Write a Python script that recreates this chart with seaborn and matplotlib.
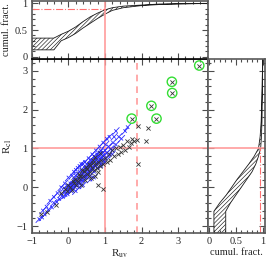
import matplotlib
matplotlib.use("Agg")
import matplotlib.pyplot as plt
import seaborn as sns
import numpy as np
import pandas as pd
from matplotlib.ticker import MultipleLocator

# blue sample (R_uv, R_cl)
blue_ruv = [-0.80, -0.72, -0.65, -0.55, -0.45, -0.40, -0.32, -0.25, -0.20, -0.15,
            -0.10, -0.08, -0.05, 0.00, 0.02, 0.05, 0.08, 0.10, 0.12, 0.15,
            0.18, 0.20, 0.22, 0.25, 0.28, 0.30, 0.32, 0.35, 0.38, 0.40,
            0.42, 0.45, 0.48, 0.50, 0.52, 0.55, 0.58, 0.60, 0.62, 0.65,
            0.68, 0.70, 0.72, 0.75, 0.78, 0.80, 0.82, 0.85, 0.88, 0.90,
            0.92, 0.95, 0.98, 1.00, 1.05, 1.10, 1.15, 1.22, 1.30, 1.38,
            1.45, 1.55, 1.62, 0.25, 0.35, 0.45, 0.55, 0.65, 0.75, 0.30,
            0.50, 0.60, 0.70, 0.40, 0.20, 0.15, 0.05, -0.02, 0.58, 0.85,
            0.95, 0.10, 0.78, 1.02, 0.88, -0.12, 0.35, 0.45, 1.20, 1.25,
            0.10, 0.20, 0.30, 0.40, 0.50, 0.60, 0.70, 0.80, 0.35, 0.45,
            0.55, 0.65, 0.75, 0.85, 0.95, 1.05, 1.12, 1.30, 0.00, -0.10,
            -0.20, -0.30, -0.40, -0.50, -0.60, -0.70, 0.20, 0.30, 0.40, 0.60,
            0.70, 0.90, 1.00, 1.10, 1.20, 0.15, 0.25, 0.55, 0.65, 0.85,
            0.90, 0.48, 0.38, 0.28, 0.18, 0.08, -0.02, 0.62, 0.72, 0.82]
blue_rcl = [-0.82, -0.78, -0.70, -0.58, -0.52, -0.40, -0.38, -0.30, -0.18, -0.25,
            -0.12, -0.20, -0.05, -0.10, 0.02, -0.02, 0.05, 0.12, -0.05, 0.08,
            0.15, 0.05, 0.20, 0.12, 0.25, 0.18, 0.10, 0.30, 0.22, 0.35,
            0.28, 0.40, 0.32, 0.45, 0.38, 0.50, 0.42, 0.55, 0.48, 0.60,
            0.52, 0.65, 0.58, 0.70, 0.62, 0.75, 0.68, 0.80, 0.72, 0.85,
            0.78, 0.90, 0.82, 0.95, 0.88, 1.05, 0.98, 1.15, 1.10, 1.30,
            1.25, 1.45, 1.55, 0.35, 0.20, 0.50, 0.35, 0.45, 0.55, 0.40,
            0.60, 0.70, 0.80, 0.15, 0.30, 0.20, 0.10, 0.05, 0.62, 0.65,
            0.70, -0.02, 0.85, 1.10, 0.95, -0.02, 0.45, 0.25, 0.95, 1.30,
            0.30, 0.45, 0.55, 0.60, 0.25, 0.30, 0.40, 0.50, 0.60, 0.65,
            0.75, 0.85, 0.95, 1.05, 1.15, 1.25, 1.30, 1.45, 0.25, 0.10,
            0.00, -0.15, -0.25, -0.35, -0.50, -0.60, -0.10, 0.00, 0.05, 0.20,
            0.25, 0.55, 0.65, 0.80, 0.85, 0.40, 0.50, 0.55, 0.70, 0.90,
            0.60, 0.48, 0.38, 0.12, 0.00, -0.10, -0.18, 0.62, 0.72, 0.82]

# black sample
black_ruv = [-0.75, -0.60, -0.35, -0.20, -0.05, 0.05, 0.10, 0.15, 0.22, 0.25,
             0.30, 0.35, 0.40, 0.45, 0.50, 0.55, 0.60, 0.62, 0.65, 0.70,
             0.72, 0.75, 0.78, 0.80, 0.82, 0.85, 0.80, 0.90, 0.95, 0.95,
             1.00, 1.05, 1.10, 1.15, 1.20, 1.25, 1.30, 1.35, 1.40, 1.45,
             1.50, 1.55, 1.60, 1.65, 1.70, 1.75, 1.80, 1.87, 1.91, 2.13,
             2.19, 1.90, 0.00, 0.12, 0.28, 0.38, 0.48, 0.58, 0.68, 0.52,
             0.42, 0.32, -0.10, 0.18, 0.66, 0.74, 0.86, 0.56]
black_rcl = [-0.70, -0.65, -0.45, -0.15, -0.10, 0.00, -0.08, 0.10, 0.05, 0.15,
             0.25, 0.05, 0.30, 0.20, 0.35, 0.30, 0.40, 0.25, 0.50, 0.45,
             0.30, 0.60, 0.50, 0.65, 0.40, 0.55, 0.05, 0.70, -0.05, 0.60,
             0.75, 0.65, 0.85, 0.70, 0.95, 0.80, 1.00, 0.85, 1.05, 0.90,
             1.10, 0.95, 1.20, 1.05, 1.15, 1.25, 1.20, 1.22, 1.58, 1.20,
             1.53, 0.60, 0.05, 0.15, 0.35, 0.45, 0.52, 0.58, 0.70, 0.48,
             0.42, 0.30, -0.05, 0.22, 0.62, 0.78, 0.88, 0.60]

# outliers circled in green
out_ruv = [1.73, 2.27, 2.41, 2.83, 2.84, 3.58]
out_rcl = [1.77, 2.10, 1.77, 2.72, 2.43, 3.14]

# cumulative fraction bands
cdf_ruv = [-1.0, -0.4, -0.2, 0.0, 0.2, 0.4, 0.6, 0.8, 1.0, 1.2, 1.5, 2.0, 2.5, 3.0, 3.82]
cdf_ruv_lo = [0.13, 0.13, 0.30, 0.36, 0.44, 0.54, 0.63, 0.72, 0.80, 0.87, 0.92, 0.96, 0.98, 0.99, 1.0]
cdf_ruv_hi = [0.35, 0.35, 0.42, 0.48, 0.56, 0.66, 0.75, 0.82, 0.88, 0.92, 0.95, 0.97, 0.99, 0.995, 1.0]

cdf_rcl = [-1.18, -0.62, -0.4, -0.2, 0.0, 0.2, 0.4, 0.6, 0.8, 1.0, 1.3, 1.7, 2.2, 2.8, 3.31]
cdf_rcl_lo = [0.09, 0.09, 0.20, 0.32, 0.42, 0.52, 0.63, 0.74, 0.84, 0.92, 0.95, 0.97, 0.98, 0.99, 1.0]
cdf_rcl_hi = [0.31, 0.31, 0.40, 0.50, 0.60, 0.70, 0.80, 0.87, 0.92, 0.96, 0.975, 0.985, 0.99, 0.995, 1.0]

ruv_cut = 1.87
ruv_frac = 0.89
rcl_frac = 0.94

sns.set_theme(style="ticks")
plt.rcParams['font.family'] = ['Liberation Serif', 'DejaVu Serif']
plt.rcParams['mathtext.fontset'] = 'stix'
plt.rcParams['hatch.linewidth'] = 0.45

fig = plt.figure(figsize=(2.66, 2.63), dpi=100)
ax = fig.add_axes([0.120, 0.114, 0.662, 0.662])
axt = fig.add_axes([0.120, 0.776, 0.662, 0.222])
axr = fig.add_axes([0.782, 0.114, 0.216, 0.662])

red = '#ff9c9c'

# main panel
seg = 0.09
for x, y in zip(blue_ruv, blue_rcl):
    ax.plot([x - seg, x + seg], [y - seg, y + seg], color='#2a2aff', lw=0.6, zorder=2)
    ax.plot([x - 0.04, x + 0.04], [y + 0.04, y - 0.04], color='#2a2aff', lw=0.6, zorder=2)
ax.axvline(1, color=red, lw=1.2, zorder=1)
ax.axhline(1, color=red, lw=1.2, zorder=1)
ax.axvline(ruv_cut, color=red, lw=1.2, ls=(0, (4, 3)), zorder=1)
df_b = pd.DataFrame({'ruv': black_ruv, 'rcl': black_rcl})
sns.scatterplot(data=df_b, x='ruv', y='rcl', marker='x', s=9, color='0.2',
                linewidth=0.6, ax=ax, zorder=3)
df_o = pd.DataFrame({'ruv': out_ruv, 'rcl': out_rcl})
sns.scatterplot(data=df_o, x='ruv', y='rcl', marker='x', s=9, color='0.2',
                linewidth=0.6, ax=ax, zorder=3)
ax.scatter(out_ruv, out_rcl, s=45, facecolors='none', edgecolors='#33dd33',
           linewidths=1.0, zorder=4)
ax.set_xlim(-1, 3.82)
ax.set_ylim(-1.18, 3.31)
ax.set_xlabel(r'R$_{\rm uv}$', fontsize=8, labelpad=1)
ax.set_ylabel(r'R$_{\rm cl}$', fontsize=8, labelpad=2)

# top panel
axt.fill_between(cdf_ruv, cdf_ruv_lo, cdf_ruv_hi, facecolor='none',
                 edgecolor='0.1', hatch='////////', lw=0.6)
axt.axvline(1, color=red, lw=1.2, zorder=1)
axt.plot([-1, 1], [ruv_frac, ruv_frac], color='#ff7070', lw=0.8, ls='-.')
axt.set_xlim(-1, 3.82)
axt.set_ylim(-0.04, 1.055)
axt.set_ylabel('cumul. fract.', fontsize=7.5, labelpad=3)
axt.set_xticklabels([])

# right panel
axr.fill_betweenx(cdf_rcl, cdf_rcl_lo, cdf_rcl_hi, facecolor='none',
                  edgecolor='0.1', hatch='////////', lw=0.6)
axr.axhline(1, color=red, lw=1.2, zorder=1)
axr.plot([rcl_frac, rcl_frac], [-1.18, 1], color='#ff7070', lw=0.8, ls='-.')
axr.set_xlim(-0.02, 1.05)
axr.set_ylim(-1.18, 3.31)
axr.set_xlabel('cumul. fract.', fontsize=7.5, labelpad=1)
axr.set_yticklabels([])

for a in (ax, axt, axr):
    a.tick_params(which='both', direction='in', top=True, right=True,
                  labelsize=7.5, width=0.8, color='0.3', pad=3)
    a.tick_params(which='major', length=4)
    a.tick_params(which='minor', length=2)
    for s in a.spines.values():
        s.set_color('0.35')
        s.set_linewidth(1.2)

ax.xaxis.set_major_locator(MultipleLocator(1))
ax.xaxis.set_minor_locator(MultipleLocator(0.2))
ax.yaxis.set_major_locator(MultipleLocator(1))
ax.yaxis.set_minor_locator(MultipleLocator(0.2))
axt.xaxis.set_major_locator(MultipleLocator(1))
axt.xaxis.set_minor_locator(MultipleLocator(0.2))
axt.yaxis.set_major_locator(MultipleLocator(0.5))
axt.yaxis.set_minor_locator(MultipleLocator(0.1))
axr.yaxis.set_major_locator(MultipleLocator(1))
axr.yaxis.set_minor_locator(MultipleLocator(0.2))
axr.xaxis.set_major_locator(MultipleLocator(0.5))
axr.xaxis.set_minor_locator(MultipleLocator(0.1))
axr.set_xticks([0, 0.5, 1])
axr.set_xticklabels(['0', '0.5', '1'])
axt.set_yticks([0, 0.5, 1])
axt.set_yticklabels(['0', '0.5', '1'])
axt.spines['bottom'].set_color('black')

fig.savefig('out.png', dpi=100)
